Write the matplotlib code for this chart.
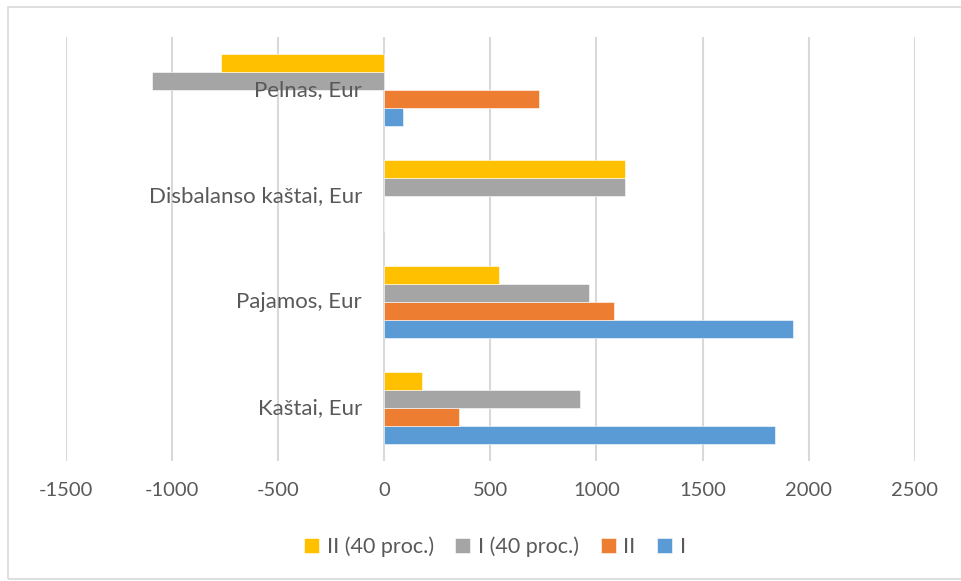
import matplotlib
matplotlib.use("Agg")
import matplotlib.pyplot as plt
import matplotlib.transforms as mtransforms
from matplotlib.patches import Rectangle
import numpy as np

plt.rcParams['font.family'] = ['Lato', 'DejaVu Sans']

categories = ["Kaštai, Eur", "Pajamos, Eur", "Disbalanso kaštai, Eur", "Pelnas, Eur"]
series_names = ["I", "II", "I (40 proc.)", "II (40 proc.)"]
vals_I = [1840, 1928, 0, 88]
vals_II = [353, 1082, 0, 730]
vals_I40 = [925, 965, 1135, -1095]
vals_II40 = [177, 540, 1135, -768]
colors = ["#5B9BD5", "#ED7D31", "#A5A5A5", "#FFC000"]
xticks = [-1500, -1000, -500, 0, 500, 1000, 1500, 2000, 2500]

text_col = "#595959"

fig = plt.figure(figsize=(9.61, 5.81), dpi=100)
ax = fig.add_axes([0.0683, 0.2065, 0.8837, 0.7298])

# light chart border
fig.patches.append(Rectangle((8 / 961, 2 / 581), 960 / 961, 572 / 581,
                             transform=fig.transFigure, fill=False,
                             edgecolor="#d9d9d9", linewidth=1.2))

y = np.arange(len(categories))
h = 0.17
handles = []
for i, (vals, col, name) in enumerate(zip([vals_I, vals_II, vals_I40, vals_II40], colors, series_names)):
    b = ax.barh(y + (i - 1.5) * h, vals, height=h, color=col, edgecolor="white",
                linewidth=0.4, label=name, zorder=2)
    handles.append(b)

ax.set_xlim(-1500, 2500)
ax.set_ylim(-0.5, 3.5)
ax.set_xticks(xticks)
ax.set_xticklabels([str(t) for t in xticks])
ax.set_yticks([])
ax.tick_params(axis='x', length=0, pad=15, labelsize=14.5, colors=text_col)
ax.set_axisbelow(True)
ax.grid(axis='x', color="#d9d9d9", linewidth=1.5)
for s in ax.spines.values():
    s.set_visible(False)

# category labels sit just left of the zero line, above the bars
trans = mtransforms.offset_copy(ax.transData, fig=fig, x=-16, y=0, units='points')
for yi, cat in zip(y, categories):
    ax.text(0, yi, cat, transform=trans, ha='right', va='center',
            fontsize=16, color=text_col, zorder=5)

leg = fig.legend(handles[::-1], series_names[::-1], loc='center', ncol=4,
                 bbox_to_anchor=(0.515, 1 - 547 / 581), frameon=False,
                 fontsize=15.5, handlelength=0.7, handleheight=0.7,
                 handletextpad=0.35, columnspacing=1.0)
for t in leg.get_texts():
    t.set_color(text_col)

fig.savefig("out.png", dpi=100)
